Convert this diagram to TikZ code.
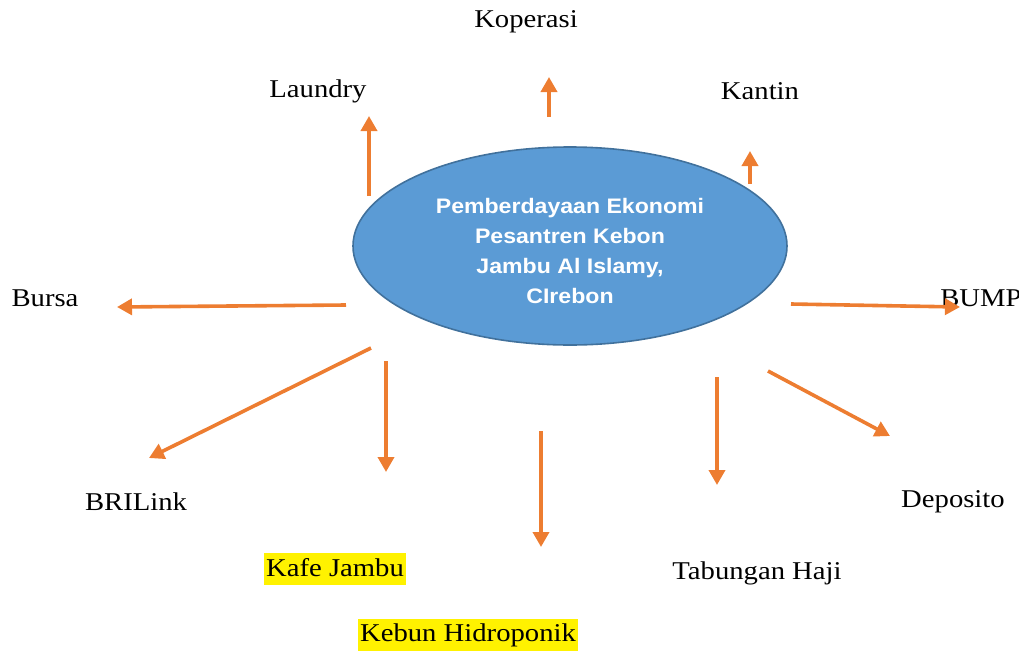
\documentclass[tikz,border=0pt]{standalone}
\usepackage{fontspec}
\setmainfont{Liberation Serif}[FakeStretch=1.12]
\newfontfamily\hubfont{Liberation Sans}[FakeStretch=1.1]
\usetikzlibrary{arrows.meta,positioning,shapes.geometric,calc}
\definecolor{hubblue}{HTML}{5B9BD5}
\definecolor{hubline}{HTML}{41719C}
\definecolor{arrorange}{HTML}{ED7D31}

\begin{document}
\begin{tikzpicture}[
  x=0.5pt, y=-0.5pt,
  every node/.style={font=\fontsize{12.8}{15}\selectfont},
  hub/.style={ellipse, draw=hubline, fill=hubblue, line width=0.8pt, minimum width=217pt, minimum height=99pt, inner sep=0pt},
  hubtext/.style={align=center, text=white, inner sep=0pt, font=\hubfont\bfseries\fontsize{10.5}{15}\selectfont},
  unit/.style={inner sep=1pt},
  glow/.style={fill=yellow, inner xsep=1pt, inner ysep=2.5pt, text depth=2pt},
  spoke/.style={-{Triangle[length=7.5pt,width=8pt]}, draw=arrorange, line width=1.8pt}
]
  \useasboundingbox (0,0) rectangle (1019,654);

  \node[hub] (hub) at (570,246) {};
  \node[hubtext] (title) at (570,251) {Pemberdayaan Ekonomi\\Pesantren Kebon\\Jambu Al Islamy,\\CIrebon};

  \node[unit] (koperasi) at (526,22) {Koperasi};
  \node[unit] (laundry) at (318,91) {Laundry};
  \node[unit] (kantin) at (760,91) {Kantin};
  \node[unit] (bursa) at (45,298) {Bursa};
  \node[unit] (bump) at (981,298) {BUMP};
  \node[unit] (brilink) at (136,502) {BRILink};
  \node[unit] (deposito) at (953,502) {Deposito};
  \node[glow] (kafe) at (335,569) {Kafe Jambu};
  \node[unit] (tabungan) at (757,573) {Tabungan Haji};
  \node[glow] (kebun) at (468,635) {Kebun Hidroponik};

  % free ends of the arrows
  \coordinate (s1) at (369,196); \coordinate (e1) at (369,116);
  \coordinate (s2) at (549,117); \coordinate (e2) at (549,77);
  \coordinate (s3) at (750,184); \coordinate (e3) at (750,151);
  \coordinate (s4) at (346,305); \coordinate (e4) at (117,307);
  \coordinate (s5) at (791,304); \coordinate (e5) at (960,307);
  \coordinate (s6) at (371,348); \coordinate (e6) at (149,458);
  \coordinate (s7) at (386,361); \coordinate (e7) at (386,472);
  \coordinate (s8) at (541,431); \coordinate (e8) at (541,547);
  \coordinate (s9) at (717,377); \coordinate (e9) at (717,485);
  \coordinate (s10) at (768,371); \coordinate (e10) at (890,436);

  \foreach \i in {1,...,10}
    \draw[spoke] (s\i) -- (e\i);
\end{tikzpicture}
\end{document}
